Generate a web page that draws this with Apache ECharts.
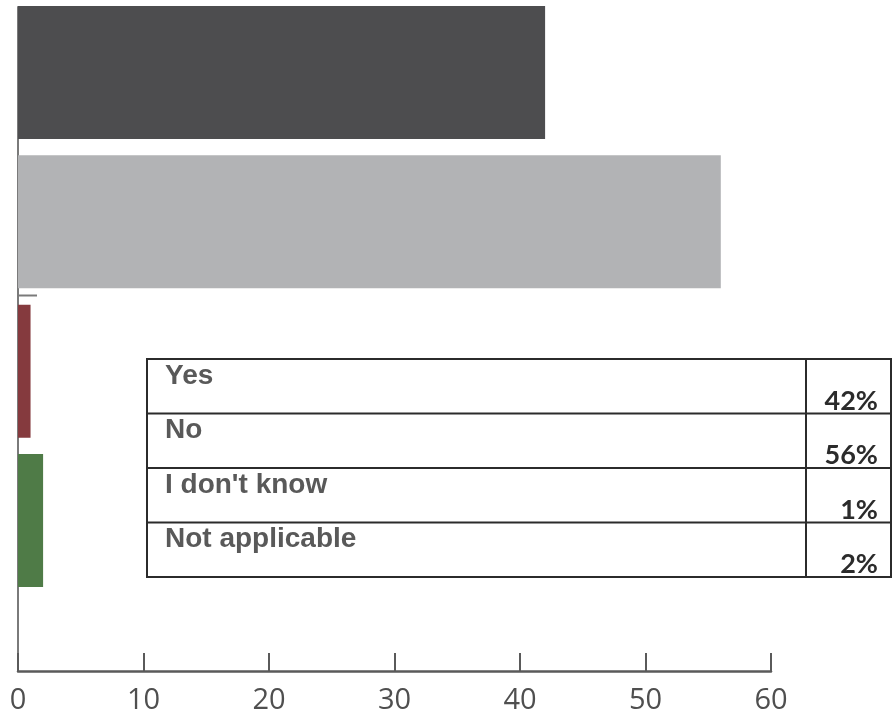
<!DOCTYPE html>
<html>
<head>
<meta charset="utf-8">
<style>
  html, body { margin: 0; padding: 0; background: #ffffff; }
  #chart { width: 893px; height: 715px; }
</style>
<script src="https://cdn.jsdelivr.net/npm/echarts@6/dist/echarts.min.js"></script>
</head>
<body>
<div id="chart"></div>
<script>
// Survey answers, in display order (top to bottom)
const categories = ['Yes', 'No', "I don't know", 'Not applicable'];
const percentValues = [42, 56, 1, 2];
const barColors = ['#4d4d4f', '#b2b3b5', '#853a3e', '#4f7b47'];
const tickValues = [0, 10, 20, 30, 40, 50, 60];

const chart = echarts.init(document.getElementById('chart'), null, { renderer: 'canvas' });

// Layout of the answer table that sits over the chart
const table = { left: 147, right: 891, divider: 806, top: 359, rowH: 54.5 };
const lineColor = '#2b2b2b';

const tableEls = [];
const tableBottom = table.top + table.rowH * categories.length;
tableEls.push({
  type: 'rect',
  shape: { x: table.left, y: table.top, width: table.right - table.left, height: tableBottom - table.top },
  style: { fill: '#ffffff', stroke: lineColor, lineWidth: 2 },
  z: 10
});
tableEls.push({
  type: 'line',
  shape: { x1: table.divider, y1: table.top, x2: table.divider, y2: tableBottom },
  style: { stroke: lineColor, lineWidth: 2 },
  z: 11
});
categories.forEach((name, i) => {
  const y0 = table.top + table.rowH * i;
  if (i > 0) {
    tableEls.push({
      type: 'line',
      shape: { x1: table.left, y1: y0, x2: table.right, y2: y0 },
      style: { stroke: lineColor, lineWidth: 2 },
      z: 11
    });
  }
  tableEls.push({
    type: 'text',
    x: table.left + 18, y: y0 + 3,
    style: {
      text: name, fill: '#595959',
      font: 'bold 28px "Liberation Sans", Arial, sans-serif',
      align: 'left', verticalAlign: 'top'
    },
    z: 12
  });
  tableEls.push({
    type: 'text',
    x: table.right - 13, y: y0 + table.rowH + 1,
    style: {
      text: percentValues[i] + '%', fill: '#2b2b2b',
      font: 'bold 27px Lato, "Open Sans", sans-serif',
      align: 'right', verticalAlign: 'bottom'
    },
    z: 12
  });
});

const option = {
  animation: false,
  backgroundColor: '#ffffff',
  grid: [
    // bars
    { left: 18, right: 122, top: 72.5, height: 448, containLabel: false },
    // full-height frame carrying the value axis and the left axis line
    { left: 18, right: 122, top: 7, bottom: 44, containLabel: false }
  ],
  xAxis: [
    {
      gridIndex: 0, type: 'value', min: 0, max: 60, interval: 10,
      show: false
    },
    {
      gridIndex: 1, type: 'value', min: 0, max: 60, interval: 10,
      axisLine: { show: true, lineStyle: { color: '#5a5a5a', width: 2.5 } },
      axisTick: { show: true, inside: true, length: 18, lineStyle: { color: '#5a5a5a', width: 2 } },
      splitLine: { show: false },
      axisLabel: {
        show: true, margin: 15, color: '#4f4f4f',
        fontFamily: '"Open Sans", sans-serif', fontSize: 29,
        formatter: v => (tickValues.indexOf(v) >= 0 ? String(v) : '')
      }
    }
  ],
  yAxis: [
    {
      gridIndex: 0, type: 'category', inverse: true, boundaryGap: false,
      data: categories,
      axisLine: { show: false }, axisTick: { show: false }, axisLabel: { show: false },
      splitLine: { show: false }
    },
    {
      gridIndex: 1, type: 'value', min: 0, max: 1,
      axisLine: { show: true, lineStyle: { color: '#7a7a7a', width: 2 } },
      axisTick: { show: false }, axisLabel: { show: false }, splitLine: { show: false }
    }
  ],
  series: [
    {
      type: 'bar',
      xAxisIndex: 0, yAxisIndex: 0,
      clip: false,
      barWidth: 133,
      data: percentValues.map((v, i) => ({ value: v, itemStyle: { color: barColors[i] } })),
      z: 3
    }
  ],
  graphic: [
    // short stub beside the vertical axis between the second and third bars
    {
      type: 'line',
      shape: { x1: 18, y1: 295.5, x2: 37, y2: 295.5 },
      style: { stroke: '#7a7a7a', lineWidth: 2 },
      z: 5
    },
    { type: 'group', children: tableEls, z: 10 }
  ]
};

chart.setOption(option);
</script>
</body>
</html>
